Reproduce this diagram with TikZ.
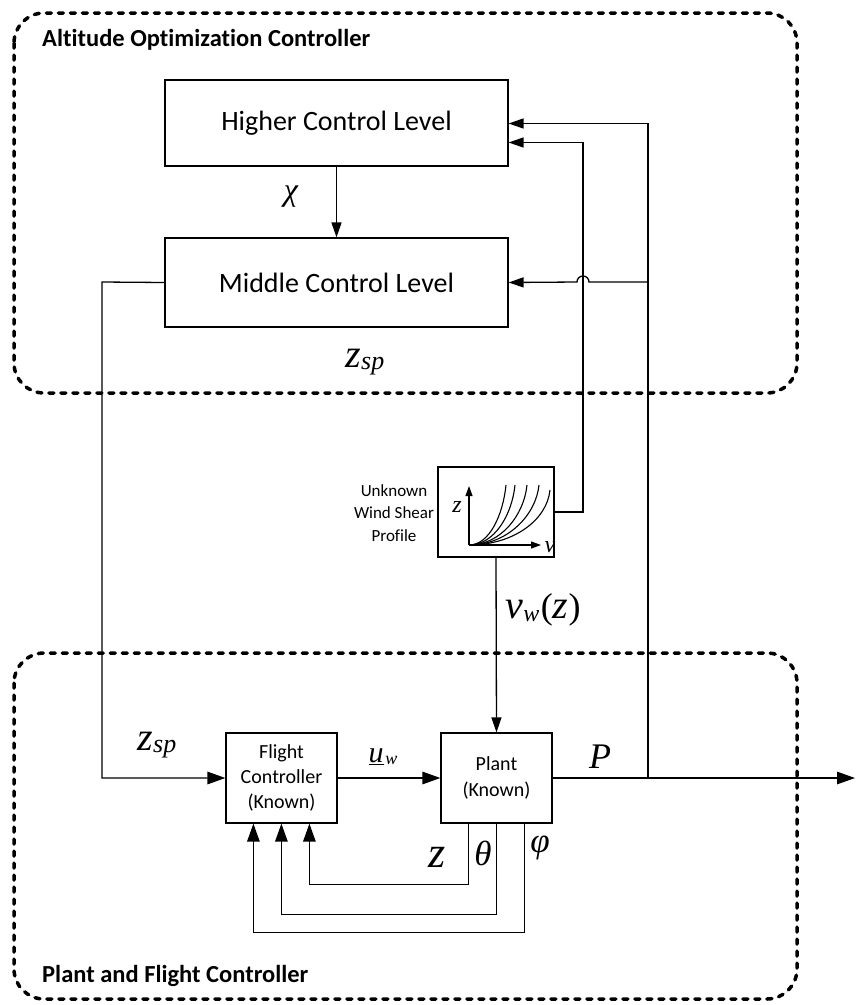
\documentclass[tikz,border=0pt]{standalone}
\usepackage{fontspec}
\setmainfont{Carlito}[Ligatures=NoCommon]
\newfontfamily\mfnt{Liberation Serif}
\usetikzlibrary{arrows.meta,calc}
\newcommand\mvar[2]{{\fontsize{#1}{#1}\mfnt\itshape #2}}
\begin{document}
\begin{tikzpicture}[x=1pt,y=-1pt,
  box/.style={draw, line width=1.2pt, inner sep=0pt, align=center},
  conn/.style={line width=1.3pt},
  arr/.style={conn, -{Triangle[length=15pt,width=10pt]}},
  barr/.style={conn, -{Triangle[length=18pt,width=12.5pt]}},
  sarr/.style={line width=1.1pt, -{Triangle[length=10pt,width=7pt]}},
  region/.style={line width=3.5pt, dash pattern=on 5pt off 7pt, line cap=round, rounded corners=30pt},
  title/.style={anchor=west, inner sep=0pt, font=\fontsize{24.5}{28}\selectfont\bfseries},
  lbl/.style={inner sep=0pt}
]
\useasboundingbox (0,0) rectangle (855,1005);

% regions
\draw[region] (14,13) rectangle (797,393);
\draw[region] (14,653) rectangle (797,999);
\node[title] (t1) at (42,40) {Altitude Optimization Controller};
\node[title] (t2) at (42,976) {Plant and Flight Controller};

% blocks
\node[box, minimum width=343pt, minimum height=86pt, font=\fontsize{28}{32}\selectfont] (hcl) at (336.5,123) {Higher Control Level};
\node[box, minimum width=343pt, minimum height=89pt, font=\fontsize{28}{32}\selectfont] (mcl) at (336.5,282.5) {Middle Control Level};
\node[box, minimum width=116pt, minimum height=90pt] (ws) at (496,512) {};
\node[box, minimum width=111pt, minimum height=90pt, font=\fontsize{20}{25}\selectfont] (fc) at (281.5,778) {Flight\\Controller\\(Known)};
\node[box, minimum width=111pt, minimum height=90pt, font=\fontsize{20}{26}\selectfont] (pl) at (496.5,778) {Plant\\(Known)};

\node[lbl, align=center, font=\fontsize{17}{22.5}\selectfont] (wsl) at (394,513) {Unknown\\Wind Shear\\Profile};

% wind shear plot
\coordinate (o) at (469,545);
\coordinate (zt) at (469,486);
\coordinate (vt) at (541,545);
\draw[sarr] (o) -- (zt);
\draw[sarr] (o) -- (vt);
\foreach \xe/\ye in {506/485, 515/485, 527/485, 539/485, 550/490}{
  \draw[line width=1.1pt] (o) .. controls ({469+0.55*(\xe-469)},545) and ({\xe-3},{\ye+30}) .. (\xe,\ye);
}
\node[lbl] (zl) at (457,507) {\mvar{24}{z}};
\node[lbl] (vl) at (550,547) {\mvar{24}{v}};

% connectors
\draw[arr] (hcl.south) -- (mcl.north);
\node[lbl] (chi) at (291,197) {\mvar{32}{χ}};

\coordinate (j) at (648,778);
\coordinate (j2) at (648,282);
\coordinate (out) at (855,778);
\draw[conn] (pl.east) -- (j);
\draw[barr] (j) -- (out);
\draw[arr] (j) |- ([yshift=-0.5pt]hcl.east);
\draw[arr] (j2) -- (589,282) arc[start angle=0, end angle=-180, radius=6] -- (mcl.east);
\draw[arr] (ws.east) -- (583,512) |- ([yshift=-19.5pt]hcl.east);
\draw[arr] (ws.south) -- (pl.north);
\draw[barr] (mcl.west) -- (102,282) |- (fc.west);
\draw[barr] (fc.east) -- (pl.west);

% feedback
\draw[barr] ([xshift=28pt]pl.south west) -- ++(0,61) -| ([xshift=84pt]fc.south west);
\draw[barr] ([xshift=56pt]pl.south west) -- ++(0,91) -| ([xshift=56pt]fc.south west);
\draw[barr] ([xshift=84pt]pl.south west) -- ++(0,109) -| ([xshift=28pt]fc.south west);

% labels
\node[lbl] (zsp1) at (365,362) {\mvar{40}{z}\raisebox{-0.35ex}{\mvar{26}{sp}}};
\node[lbl] (zsp2) at (157,745) {\mvar{40}{z}\raisebox{-0.35ex}{\mvar{26}{sp}}};
\node[lbl] (vw) at (543,610) {\mvar{40}{v}\raisebox{-0.5ex}{\mvar{24}{w}}\,{\fontsize{36}{36}\mfnt(}\mvar{40}{z}{\fontsize{36}{36}\mfnt)}};
\node[lbl] (uw) at (383,757) {\underline{\mvar{30}{u}}\,\raisebox{-0.3ex}{\mvar{18}{w}}};
\node[lbl] (P) at (600,757) {\mvar{36}{P}};
\node[lbl] (zfb) at (437,857) {\mvar{44}{z}};
\node[lbl] (th) at (483,853) {\mvar{35}{θ}};
\node[lbl] (ph) at (540,848) {\mvar{35}{φ}};
\end{tikzpicture}
\end{document}
